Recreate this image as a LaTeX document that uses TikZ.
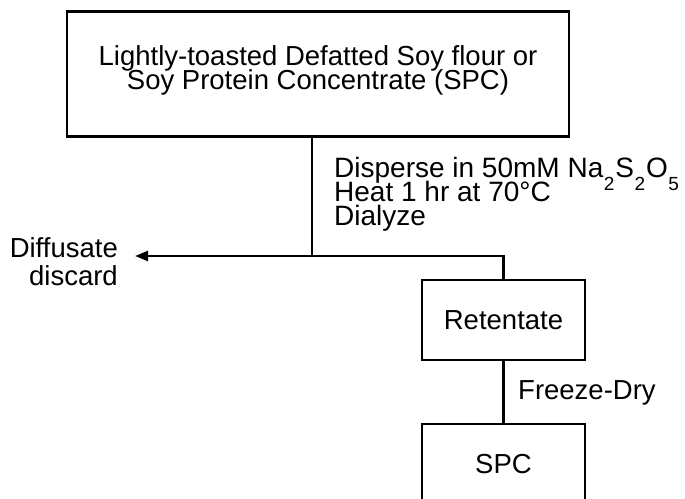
\documentclass[tikz,border=0pt]{standalone}
\usepackage{fontspec}
\setmainfont{Liberation Sans}
\usetikzlibrary{arrows.meta,positioning}

\newcommand{\flowfont}{\fontsize{27.5}{23.5}\selectfont\lineskiplimit=-30pt\relax}
\newcommand{\stepfont}{\fontsize{28}{24}\selectfont\lineskiplimit=-30pt\relax}
\newcommand{\chemsub}[1]{\kern0.5pt\smash{\raisebox{-13pt}{\fontsize{19}{19}\selectfont #1}}\kern1pt}

\tikzset{
  procbox/.style={draw, line width=2.4pt, minimum width=163pt, minimum height=80pt, inner sep=0pt},
  flow/.style={line width=2.4pt},
  steptext/.style={anchor=base west, align=left, inner sep=0pt},
}

\begin{document}
\begin{tikzpicture}[x=1pt, y=-1pt, font=\flowfont]
\useasboundingbox (0,0) rectangle (685,498);
% boxes
\node[procbox, minimum width=502pt, minimum height=125pt, align=center, text depth=12.5pt] (flour) at (318,74)
  {Lightly-toasted Defatted Soy flour or\\Soy Protein Concentrate (SPC)};
\node[procbox] (ret) at (503.5,320) {Retentate};
\node[procbox] (spc) at (503.5,464) {SPC};
% side output
\node[anchor=base east, align=right, inner sep=0pt, font=\fontsize{27.5}{28}\selectfont] (diff) at (118,285)
  {Diffusate\\discard};
\coordinate (split) at (312,256);
\coordinate (waste) at (135,256);
% connectors
\draw[flow] (split |- flour.south) -- (split);
\draw[flow, -{Triangle[length=13pt,width=10pt]}] (split) -- (waste);
\draw[flow] (split) -| (ret.north);
\draw[flow] (ret) -- (spc);
% step labels
\node[steptext, font=\stepfont] (treat) at (334,225.5)
  {Disperse in 50mM Na\chemsub{2}S\chemsub{2}O\chemsub{5}\\Heat 1 hr at 70°C\\Dialyze};
\node[steptext] (dry) at (518,399) {Freeze-Dry};
\end{tikzpicture}
\end{document}
